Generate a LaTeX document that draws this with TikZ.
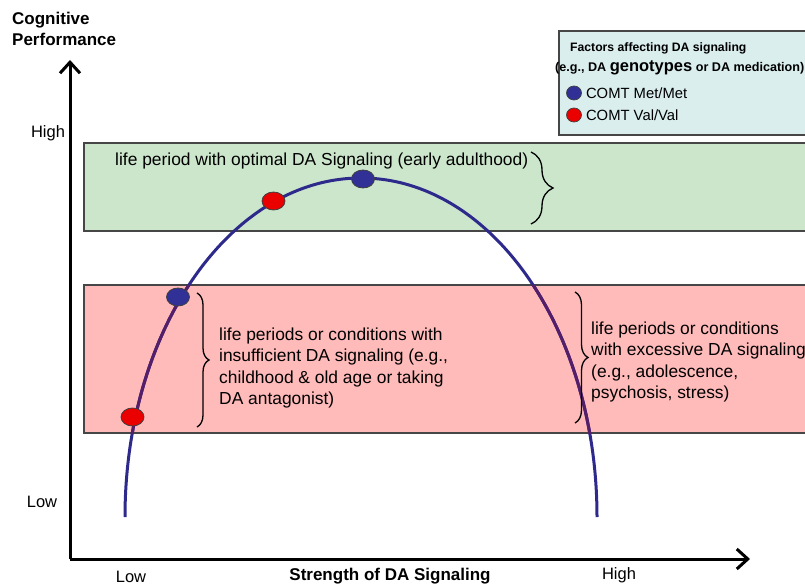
\documentclass[tikz,border=0pt]{standalone}
\usepackage{fontspec}
\setmainfont{Liberation Sans}
\usepackage{xcolor}
\usetikzlibrary{arrows.meta,positioning,shapes.geometric,decorations.pathreplacing}
\definecolor{otimo}{RGB}{204,230,204}
\definecolor{desvio}{RGB}{255,186,186}
\definecolor{legenda}{RGB}{218,238,238}
\definecolor{curva}{RGB}{45,42,140}
\definecolor{curvaroxa}{RGB}{85,30,105}
\definecolor{metmet}{RGB}{48,48,150}
\definecolor{valval}{RGB}{235,0,0}
\definecolor{borda}{RGB}{70,70,70}

\begin{document}
\begin{tikzpicture}[x=1pt, y=1pt,
    faixa/.style={draw=borda, line width=1.4pt},
    texto/.style={font=\fontsize{17.4}{21.2}\selectfont, align=left, inner sep=0pt, anchor=west},
    titulo/.style={font=\bfseries\fontsize{17}{21}\selectfont, align=left, inner sep=0pt},
    nivel/.style={font=\fontsize{16.5}{20}\selectfont, inner sep=0pt},
    eixo/.style={line width=3pt, -{Straight Barb[length=11pt, width=20pt]}},
    chave/.style={decorate, decoration={brace, amplitude=#1}, line width=1.3pt},
    ponto/.style={draw=black!75, ellipse, line width=0.8pt, minimum width=23pt,
        minimum height=18pt, inner sep=0pt},
    marca/.style={draw=black!75, ellipse, line width=0.7pt, minimum width=15pt,
        minimum height=14pt, inner sep=0pt}
]
    \useasboundingbox (0,0) rectangle (805,587);

    \draw[faixa, fill=otimo] (84,444) rectangle (808,356);
    \draw[faixa, fill=desvio] (84,302) rectangle (808,154);
    \draw[faixa, fill=legenda] (559,556) rectangle (808,452);

    \draw[curva, line width=3pt]
        (125,70) arc[start angle=180, end angle=0, x radius=236, y radius=339];
    \begin{scope}
        \clip (84,302) rectangle (808,154);
        \draw[curvaroxa, line width=3pt]
            (125,70) arc[start angle=180, end angle=0, x radius=236, y radius=339];
    \end{scope}

    \coordinate (otimoA) at (531,435);
    \coordinate (otimoB) at (531,363);
    \coordinate (baixoA) at (197,294);
    \coordinate (baixoB) at (197,160);
    \coordinate (altoA) at (575,295);
    \coordinate (altoB) at (575,164);
    \draw[chave=22pt] (otimoA) -- (otimoB);
    \draw[chave=12pt] (baixoA) -- (baixoB);
    \draw[chave=13pt] (altoA) -- (altoB);

    \node[texto] (otimotxt) at (115,426) {life period with optimal DA Signaling (early adulthood)};
    \node[texto] (baixotxt) at (219,219) {life periods or conditions with\\insufficient DA signaling (e.g.,\\childhood \& old age or taking\\DA antagonist)};
    \node[texto] (altotxt) at (591,225) {life periods or conditions\\with excessive DA signaling\\(e.g., adolescence,\\psychosis, stress)};

    \node[ponto, fill=valval] (val1) at (132.5,170) {};
    \node[ponto, fill=metmet] (met1) at (178,290) {};
    \node[ponto, fill=valval] (val2) at (273.5,386) {};
    \node[ponto, fill=metmet] (met2) at (363,408) {};

    \node[anchor=west, inner sep=0pt, font=\bfseries\fontsize{12.2}{14}\selectfont] (fatores) at (570,539) {Factors affecting DA signaling};
    \node[anchor=west, inner sep=0pt, font=\bfseries\fontsize{12.6}{14}\selectfont] (exemplo) at (555,519) {(e.g., DA {\fontsize{16.5}{16}\selectfont genotypes} or DA medication)};
    \node[marca, fill=metmet] (legmet) at (574,494) {};
    \node[marca, fill=valval] (legval) at (574,472) {};
    \node[anchor=west, inner sep=0pt, font=\fontsize{14.8}{17}\selectfont, right=4pt of legmet] (txtmet) {COMT Met/Met};
    \node[anchor=west, inner sep=0pt, font=\fontsize{14.8}{17}\selectfont, right=4pt of legval] (txtval) {COMT Val/Val};

    \coordinate (origem) at (70,28);
    \coordinate (topo) at (70,527);
    \coordinate (fim) at (750,28);
    \draw[eixo] (origem) -- (topo);
    \draw[eixo] (origem) -- (fim);

    \node[titulo, anchor=west] (desempenho) at (12,558) {Cognitive\\Performance};
    \node[nivel] (yalto) at (48,454) {High};
    \node[nivel] (ybaixo) at (42,85) {Low};
    \node[nivel] (xbaixo) at (131,10) {Low};
    \node[titulo] (forca) at (390,11) {Strength of DA Signaling};
    \node[nivel] (xalto) at (619,12) {High};
\end{tikzpicture}
\end{document}
